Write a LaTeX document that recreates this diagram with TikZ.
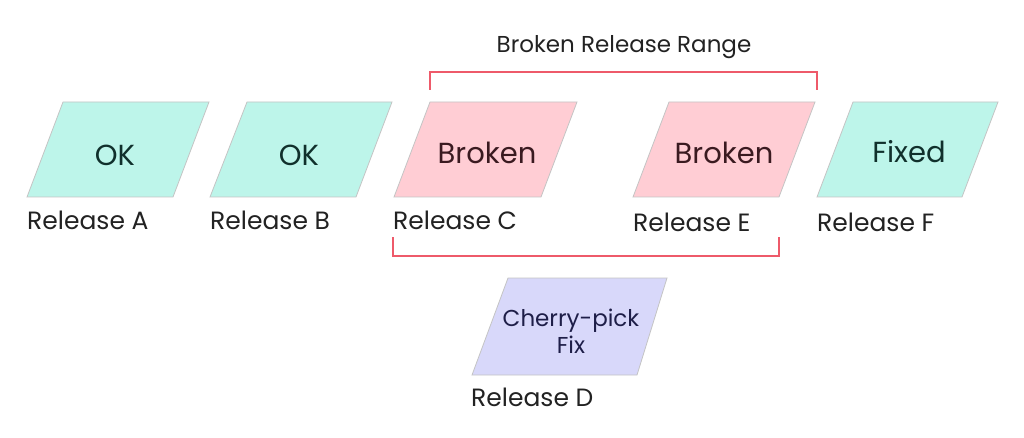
\documentclass[tikz,border=0pt]{standalone}
\usepackage{fontspec}
\setmainfont{Poppins}
\definecolor{tealfill}{HTML}{BDF5EA}
\definecolor{pinkfill}{HTML}{FFCDD4}
\definecolor{lavfill}{HTML}{D8D8FA}
\definecolor{edgegray}{HTML}{C4C4C4}
\definecolor{brk}{HTML}{EE5A6A}
\definecolor{tealtext}{HTML}{10302C}
\definecolor{pinktext}{HTML}{3A1A20}
\definecolor{lavtext}{HTML}{1E1E48}
\definecolor{labeltext}{HTML}{222222}
\tikzset{
  para/.style={draw=edgegray, line width=0.8pt},
  boxtext/.style={font=\fontsize{29}{34}\selectfont, align=center},
  smalltext/.style={font=\fontsize{23}{27}\selectfont, align=center, text=lavtext},
  rellabel/.style={anchor=west, inner sep=0pt, font=\fontsize{25}{30}\selectfont, text=labeltext},
  bracket/.style={draw=brk, line width=1.6pt}
}
\begin{document}
\begin{tikzpicture}[x=1pt,y=-1pt]
\useasboundingbox (0,0) rectangle (1024,438);
% parallelograms
\filldraw[para, fill=tealfill] (63,102) -- (209,102) -- (173,197) -- (27,197) -- cycle;
\filldraw[para, fill=tealfill] (247,102) -- (392,102) -- (356,197) -- (210,197) -- cycle;
\filldraw[para, fill=pinkfill] (430,102) -- (577,102) -- (541,197) -- (394,197) -- cycle;
\filldraw[para, fill=pinkfill] (669,102) -- (815,102) -- (779,197) -- (633,197) -- cycle;
\filldraw[para, fill=tealfill] (853,102) -- (998,102) -- (962,197) -- (817,197) -- cycle;
\filldraw[para, fill=lavfill] (508,278) -- (667,278) -- (637,375) -- (472,375) -- cycle;
% box texts
\node[boxtext, text=tealtext] (ta) at (115,155) {OK};
\node[boxtext, text=tealtext] (tb) at (299,155) {OK};
\node[boxtext, text=pinktext] (tc) at (487,153) {Broken};
\node[boxtext, text=pinktext] (te) at (724,153) {Broken};
\node[boxtext, text=tealtext] (tf) at (909,152) {Fixed};
\node[smalltext] (td) at (571,331) {Cherry-pick\\[-0pt]Fix};
% labels
\node[rellabel] (la) at (27,220) {Release A};
\node[rellabel] (lb) at (210,220) {Release B};
\node[rellabel] (lc) at (393,220) {Release C};
\node[rellabel] (le) at (633,222) {Release E};
\node[rellabel] (lf) at (817,222) {Release F};
\node[rellabel] (ld) at (471,397) {Release D};
% brackets
\coordinate (b1a) at (430,90);
\coordinate (b1b) at (430,72);
\coordinate (b1c) at (817,72);
\coordinate (b1d) at (817,90);
\draw[bracket] (b1a) -- (b1b) -- (b1c) -- (b1d);
\node[font=\fontsize{23}{27}\selectfont, text=labeltext] (range) at (624,47) {Broken Release Range};
\coordinate (b2a) at (393,237);
\coordinate (b2b) at (393,256);
\coordinate (b2c) at (779,256);
\coordinate (b2d) at (779,237);
\draw[bracket] (b2a) -- (b2b) -- (b2c) -- (b2d);
\end{tikzpicture}
\end{document}
